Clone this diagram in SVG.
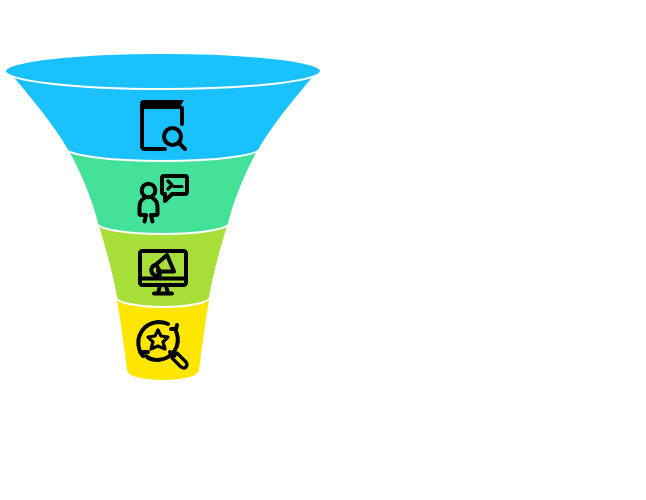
<svg xmlns="http://www.w3.org/2000/svg" width="646" height="500" viewBox="0 0 646 500">
<style>
.i{fill:none;stroke:#000;stroke-width:4;stroke-linecap:round;stroke-linejoin:round}
.t{stroke-width:3.200}
.k{fill:#000}
.s{stroke:#fff;stroke-width:2}
</style>
<rect width="646" height="500" fill="#fff"/>
<g id="stage-4">
<path class="s" d="M114,288L212,288C207,318 203,345 200,370Q199,380 163,381Q127,380 126,370C123,345 119,318 114,288Z" fill="#ffe600"/>
<path class="i" d="M139.500,350C135,336 144,323 158,322C162,322 166,323 168,324"/>
<path class="i" d="M176,331C182,346 172,359 158,360C153,360 149,359 146,356"/>
<path class="i" d="M140,352H148M143,356L140,352M176,329L171,329M176,329L177,325"/>
<path class="i t" d="M158,330L161,336L168,337L163,342L165,349L158,346L151,349L153,342L148,337L155,336Z"/>
<path class="i" d="M170,352L174,356"/>
<path class="i t" d="M174,356L177,353L186,362Q188,365 186,367Q184,369 181,367L172,358Z"/>
</g>
<g id="stage-3">
<path class="s" d="M94,213L232,213C222,245 214,272 210,297A47,10 0 0 1 116,297C112,272 104,245 94,213Z" fill="#a7de38"/>
<rect class="i" x="140" y="251" width="46" height="34" rx="2.500"/>
<path class="i" d="M140,278.500H186M160,286L158,293M166,286L168,293M154,293.500H172"/>
<path class="i" d="M167,255L174,271.500L160,271.500L156,264.500Z"/>
<path class="i" d="M156,264.500C151,266 150,271 153,274C155,276 158,276 160,275L158,271"/>
</g>
<g id="stage-2">
<path class="s" d="M62,140L264,140C247,170 236,195 229,223A66,11 0 0 1 97,223C90,195 79,170 62,140Z" fill="#44e298"/>
<circle class="i" cx="148.500" cy="190.500" r="6.800"/>
<path class="i" d="M144,198.500C140,200 139.500,204 139.500,208V213.500Q139.500,215 141,215H146L144.500,221.500M153,198.500C157,200 157.500,204 157.500,208V213.500Q157.500,215 156,215H151L152.500,221.500"/>
<path class="i" d="M164,176H185Q187,176 187,178V192Q187,194 185,194H172L165,201V194H164Q162,194 162,192V178Q162,176 164,176Z"/>
<path class="i t" d="M168,181L172,185L168,189M174,186.500H182"/>
</g>
<g id="stage-1">
<path class="s" d="M7,71L319,71C306,86 278,118 260,148A97,13 0 0 1 66,148C48,118 20,86 7,71Z" fill="#1ac1ff"/>
<path class="i" d="M142,108V146Q142,149 145,149H165M182,108V124"/>
<path class="k" d="M140,109V104Q140,100 144,100H184L181,105L183,109Z"/>
<circle class="i" cx="172.500" cy="136.500" r="8.500"/>
<path class="i" d="M179,143L185,149"/>
</g>
<g id="funnel-top"><ellipse class="s" cx="163" cy="71" rx="158" ry="18" fill="#1ac1ff"/></g>
</svg>
